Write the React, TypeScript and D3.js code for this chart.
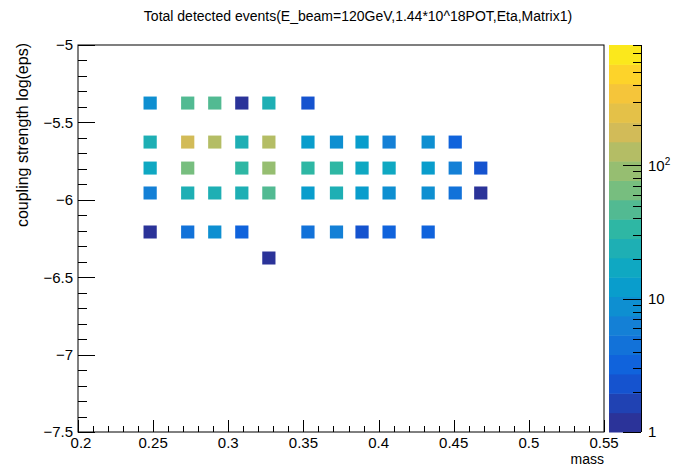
import React, { useEffect, useRef } from "react";
import * as d3 from "d3";

// mass bins (x) and log(eps) bins (y)
const massBins = [0.248, 0.273, 0.291, 0.309, 0.327, 0.353, 0.372, 0.389, 0.407, 0.433, 0.451, 0.468];
const epsBins = [-5.375, -5.627, -5.795, -5.956, -6.208, -6.376];

// detected events per cell, one array per log(eps) row (null = empty)
const row5375 = [8.5, 47, 47, 1.2, 24, 2.3, null, null, null, null, null, null];
const row5627 = [24, 178, 127, 22, 120, 12, 9, 13, 7, 7.5, 3.2, null];
const row5795 = [16, 65, null, 33, 90, 34, 32, 17, 16, 12, 7, 2.3];
const row5956 = [5.5, 24, 24, 22, 42, 14, 25, 13, 8.5, 8, 4, 1.2];
const row6208 = [1.2, 4.5, 7.5, 3.2, null, 4.5, 7, 2.3, 3.2, 3.5, null, null];
const row6376 = [null, null, null, null, 1.2, null, null, null, null, null, null, null];
const rows = [row5375, row5627, row5795, row5956, row6208, row6376];

const title = "Total detected events(E_beam=120GeV,1.44*10^18POT,Eta,Matrix1)";
const xTicks = [0.2, 0.25, 0.3, 0.35, 0.4, 0.45, 0.5, 0.55];
const yTicks = [-5, -5.5, -6, -6.5, -7, -7.5];
const zMin = 1;
const zMax = 800;
const nLevels = 20;

// kBird-like palette (first stop nudged toward the blue seen in the picture)
const birdStops = [0, 0.125, 0.25, 0.375, 0.5, 0.625, 0.75, 0.875, 1];
const birdR = [0.17, 0.0592, 0.078, 0.0232, 0.1802, 0.5301, 0.8186, 0.9956, 0.9764];
const birdG = [0.2, 0.3599, 0.5041, 0.6419, 0.7178, 0.7492, 0.7328, 0.7862, 0.9832];
const birdB = [0.6, 0.8684, 0.8385, 0.7914, 0.6425, 0.4662, 0.3499, 0.1968, 0.0539];

const CELL_W = 0.0088;
const CELL_H = 0.084;
const FONT = "'Liberation Sans', Arial, Helvetica, sans-serif";

const App = () => {
  const svgRef = useRef<SVGSVGElement>(null);

  useEffect(() => {
    const svg = d3.select(svgRef.current);
    svg.selectAll("*").remove();

    const frame = { left: 78, right: 604, top: 45, bottom: 432 };
    const bar = { left: 609, right: 641 };

    const x = d3.scaleLinear().domain([0.2, 0.55]).range([frame.left, frame.right]);
    const y = d3.scaleLinear().domain([-7.5, -5]).range([frame.bottom, frame.top]);
    const z = d3.scaleLog().domain([zMin, zMax]).range([frame.bottom, frame.top]);

    const bird = d3
      .scaleLinear<string>()
      .domain(birdStops)
      .range(birdStops.map((_, i) => d3.rgb(birdR[i] * 255, birdG[i] * 255, birdB[i] * 255).toString()))
      .interpolate(d3.interpolateRgb);

    const levelColor = (lvl: number) => bird(Math.floor(0.01 + (lvl * 255) / nLevels) / 254);
    const levelOf = (v: number) => {
      const f = Math.log10(v / zMin) / Math.log10(zMax / zMin);
      return Math.max(0, Math.min(nLevels - 1, Math.floor(f * nLevels)));
    };

    // cells
    const cells: { m: number; e: number; v: number }[] = [];
    rows.forEach((row, j) => {
      row.forEach((v, i) => {
        if (v != null) cells.push({ m: massBins[i], e: epsBins[j], v });
      });
    });

    svg
      .append("g")
      .selectAll("rect")
      .data(cells)
      .join("rect")
      .attr("x", (d) => x(d.m - CELL_W / 2))
      .attr("y", (d) => y(d.e + CELL_H / 2))
      .attr("width", (d) => x(d.m + CELL_W / 2) - x(d.m - CELL_W / 2))
      .attr("height", (d) => y(d.e - CELL_H / 2) - y(d.e + CELL_H / 2))
      .attr("fill", (d) => levelColor(levelOf(d.v)));

    // frame
    svg
      .append("rect")
      .attr("x", frame.left)
      .attr("y", frame.top)
      .attr("width", frame.right - frame.left)
      .attr("height", frame.bottom - frame.top)
      .attr("fill", "none")
      .attr("stroke", "#000")
      .attr("stroke-width", 1);

    // y axis ticks
    const yMinor = d3.range(-7.5, -4.99, 0.1);
    svg
      .append("g")
      .selectAll("line")
      .data(yMinor)
      .join("line")
      .attr("x1", frame.left)
      .attr("x2", (d) => frame.left + (Math.abs(Math.round(d * 2) - d * 2) < 1e-6 ? 17 : 9))
      .attr("y1", (d) => Math.round(y(d)) + 0.5)
      .attr("y2", (d) => Math.round(y(d)) + 0.5)
      .attr("stroke", "#000");

    svg
      .append("g")
      .selectAll("text")
      .data(yTicks)
      .join("text")
      .attr("x", frame.left - 5)
      .attr("y", (d) => y(d))
      .attr("dy", "0.36em")
      .attr("text-anchor", "end")
      .attr("font-family", FONT)
      .attr("font-size", 15)
      .text((d) => d3.format("")(d).replace("-", "\u2212"));

    // x axis ticks
    const xMinor = d3.range(0.2, 0.5501, 0.01);
    svg
      .append("g")
      .selectAll("line")
      .data(xMinor)
      .join("line")
      .attr("x1", (d) => Math.round(x(d)) + 0.5)
      .attr("x2", (d) => Math.round(x(d)) + 0.5)
      .attr("y1", frame.bottom)
      .attr("y2", (d) => frame.bottom - (Math.abs(Math.round(d * 20) - d * 20) < 1e-6 ? 12 : 6))
      .attr("stroke", "#000");

    svg
      .append("g")
      .selectAll("text")
      .data(xTicks)
      .join("text")
      .attr("x", (d) => x(d) + (d === 0.2 ? 3 : 0))
      .attr("y", frame.bottom + 16)
      .attr("text-anchor", "middle")
      .attr("font-family", FONT)
      .attr("font-size", 15)
      .text((d) => d3.format("")(d));

    // axis titles
    svg
      .append("text")
      .attr("x", frame.right)
      .attr("y", 464)
      .attr("text-anchor", "end")
      .attr("font-family", FONT)
      .attr("font-size", 14)
      .text("mass");

    svg
      .append("text")
      .attr("transform", `translate(28, ${frame.top - 2}) rotate(-90)`)
      .attr("text-anchor", "end")
      .attr("font-family", FONT)
      .attr("font-size", 16)
      .text("coupling strength log(eps)");

    // title
    svg
      .append("text")
      .attr("x", 358)
      .attr("y", 21)
      .attr("text-anchor", "middle")
      .attr("font-family", FONT)
      .attr("font-size", 14)
      .text(title);

    // colour bar
    const levels = d3.range(nLevels);
    const lz = (l: number) => zMin * Math.pow(zMax / zMin, l / nLevels);
    svg
      .append("g")
      .selectAll("rect")
      .data(levels)
      .join("rect")
      .attr("x", bar.left)
      .attr("y", (l) => z(lz(l + 1)))
      .attr("width", bar.right - bar.left)
      .attr("height", (l) => z(lz(l)) - z(lz(l + 1)) + 0.5)
      .attr("fill", (l) => levelColor(l));

    svg
      .append("line")
      .attr("x1", bar.right + 0.5)
      .attr("x2", bar.right + 0.5)
      .attr("y1", frame.top)
      .attr("y2", frame.bottom)
      .attr("stroke", "#000");

    const zTicks: number[] = [];
    [1, 10, 100].forEach((dec) => {
      for (let k = 1; k <= 9; k++) if (dec * k <= zMax) zTicks.push(dec * k);
    });
    svg
      .append("g")
      .selectAll("line")
      .data(zTicks)
      .join("line")
      .attr("x1", bar.right)
      .attr("x2", (d) => bar.right - ([1, 10, 100].includes(d) ? 18 : 8))
      .attr("y1", (d) => Math.round(z(d)) + 0.5)
      .attr("y2", (d) => Math.round(z(d)) + 0.5)
      .attr("stroke", "#000");

    const zLabels = svg.append("g").attr("font-family", FONT).attr("font-size", 15);
    zLabels.append("text").attr("x", bar.right + 7).attr("y", z(1)).attr("dy", "0.36em").text("1");
    zLabels.append("text").attr("x", bar.right + 7).attr("y", z(10)).attr("dy", "0.36em").text("10");
    const t100 = zLabels.append("text").attr("x", bar.right + 7).attr("y", z(100)).attr("dy", "0.36em");
    t100.append("tspan").text("10");
    t100.append("tspan").attr("font-size", 10).attr("dy", "-0.6em").text("2");
  }, []);

  return (
    <div style={{ position: "absolute", left: 0, top: 0 }}>
      <svg ref={svgRef} width={679} height={468} style={{ display: "block", background: "#fff" }}></svg>
    </div>
  );
};

export default App;
